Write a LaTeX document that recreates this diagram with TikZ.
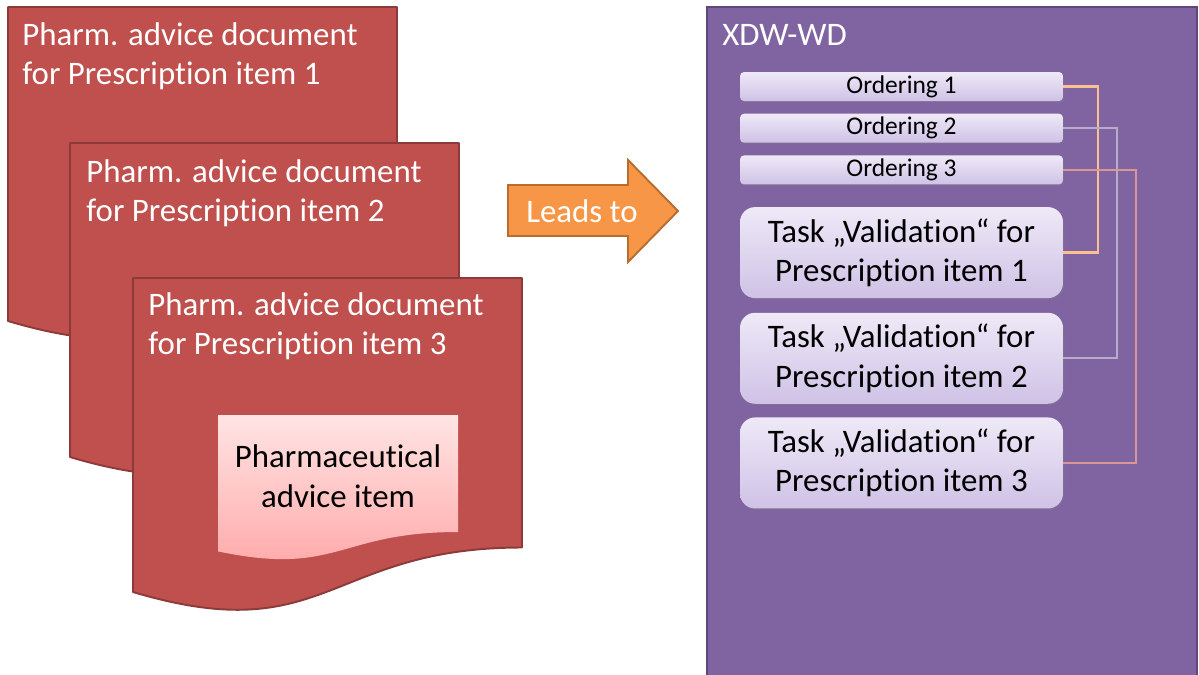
\documentclass[tikz,border=0pt]{standalone}
\usepackage{fontspec}
\setmainfont{Carlito}[Ligatures=NoCommon]
\usepackage{xcolor}
\usepackage{tikz}
\usetikzlibrary{positioning, shadows}

\definecolor{docred}{HTML}{C0504D}
\definecolor{docedge}{HTML}{8C3B3A}
\definecolor{itemtop}{HTML}{FFE4E4}
\definecolor{itembottom}{HTML}{FFA6A6}
\definecolor{leadfill}{HTML}{F79646}
\definecolor{leadedge}{HTML}{B86D2E}
\definecolor{wdfill}{HTML}{8064A2}
\definecolor{wdedge}{HTML}{5E4879}
\definecolor{boxtop}{HTML}{EEE9F7}
\definecolor{boxbottom}{HTML}{CFC2E6}
\definecolor{linkone}{HTML}{FAC08F}
\definecolor{linktwo}{HTML}{B7ADCB}
\definecolor{linkthree}{HTML}{D99694}

\begin{document}
\begin{tikzpicture}[
          x=0.02cm, y=-0.02cm,
          docpage/.style={fill=docred, draw=docedge, line width=1.1pt, line join=round},
          itempage/.style={top color=itemtop, bottom color=itembottom, draw=none},
          doctitle/.style={anchor=north west, inner sep=0pt, align=left, text=white,
                           font=\fontsize{18.7}{22.5}\selectfont},
          bigtext/.style={font=\fontsize{18.7}{22.5}\selectfont},
          panel/.style={fill=wdfill, draw=wdedge, line width=1.1pt},
          ordering/.style={rectangle, rounded corners=0.08cm, top color=boxtop, bottom color=boxbottom,
                           minimum width=6.46cm, minimum height=0.58cm, inner sep=0pt,
                           font=\fontsize{14.5}{16}\selectfont,
                           drop shadow={opacity=0.35, shadow xshift=0.6pt, shadow yshift=-0.8pt}},
          task/.style={rectangle, rounded corners=0.3cm, top color=boxtop, bottom color=boxbottom,
                       minimum width=6.46cm, minimum height=1.82cm, align=center, inner sep=0pt,
                       font=\fontsize{18.7}{22.5}\selectfont,
                       drop shadow={opacity=0.35, shadow xshift=0.6pt, shadow yshift=-0.8pt}},
          link/.style={line width=1.3pt}
      ]
      \useasboundingbox (0,0) rectangle (1199,674);

      % Documents
      \draw[docpage] (8,7) -- (397,7) -- (397,276.5)
          .. controls (202.5,276.5) and (202.5,379) .. (8,321) -- cycle;
      \node[doctitle] (doc1) at (22,22) {Pharm. advice document\\for Prescription item 1};

      \draw[docpage] (70,143) -- (459,143) -- (459,412.5)
          .. controls (264.5,412.5) and (264.5,515) .. (70,457) -- cycle;
      \node[doctitle] (doc2) at (86,159) {Pharm. advice document\\for Prescription item 2};

      \draw[docpage] (133,278) -- (522,278) -- (522,547.5)
          .. controls (327.5,547.5) and (327.5,650) .. (133,592) -- cycle;
      \node[doctitle] (doc3) at (148,292) {Pharm. advice document\\for Prescription item 3};

      % Advice item
      \path[itempage] (218,415) -- (458,415) -- (458,532)
          .. controls (338,532) and (338,576.6) .. (218,551.4) -- cycle;
      \node[bigtext, align=center] (item) at (338,476) {Pharmaceutical\\advice item};

      % Arrow
      \draw[fill=leadfill, draw=leadedge, line width=1.1pt, line join=miter]
          (508,185) -- (628,185) -- (628,160) -- (678,211) -- (628,262) -- (628,236) -- (508,236) -- cycle;
      \node[bigtext, text=white, anchor=base] (leads) at (582,222) {Leads to};

      % Workflow document
      \draw[panel] (707,7) rectangle (1197,690);
      \node[bigtext, text=white, anchor=base west, inner sep=0pt] (xdw) at (722,45) {XDW-WD};

      \node[ordering] (ord1) at (901.5,86.5) {Ordering 1};
      \node[ordering, below=0.24cm of ord1] (ord2) {Ordering 2};
      \node[ordering, below=0.24cm of ord2] (ord3) {Ordering 3};

      \node[task, below=0.44cm of ord3] (task1) {Task „Validation“ for\\Prescription item 1};
      \node[task, below=0.28cm of task1] (task2) {Task „Validation“ for\\Prescription item 2};
      \node[task, below=0.26cm of task2] (task3) {Task „Validation“ for\\Prescription item 3};

      % Links
      \draw[link, linkone] (ord1.east) -- ++(35,0) |- (task1.east);
      \draw[link, linktwo] (ord2.east) -- ++(54,0) |- (task2.east);
      \draw[link, linkthree] (ord3.east) -- ++(73,0) |- (task3.east);

      \end{tikzpicture}
\end{document}
